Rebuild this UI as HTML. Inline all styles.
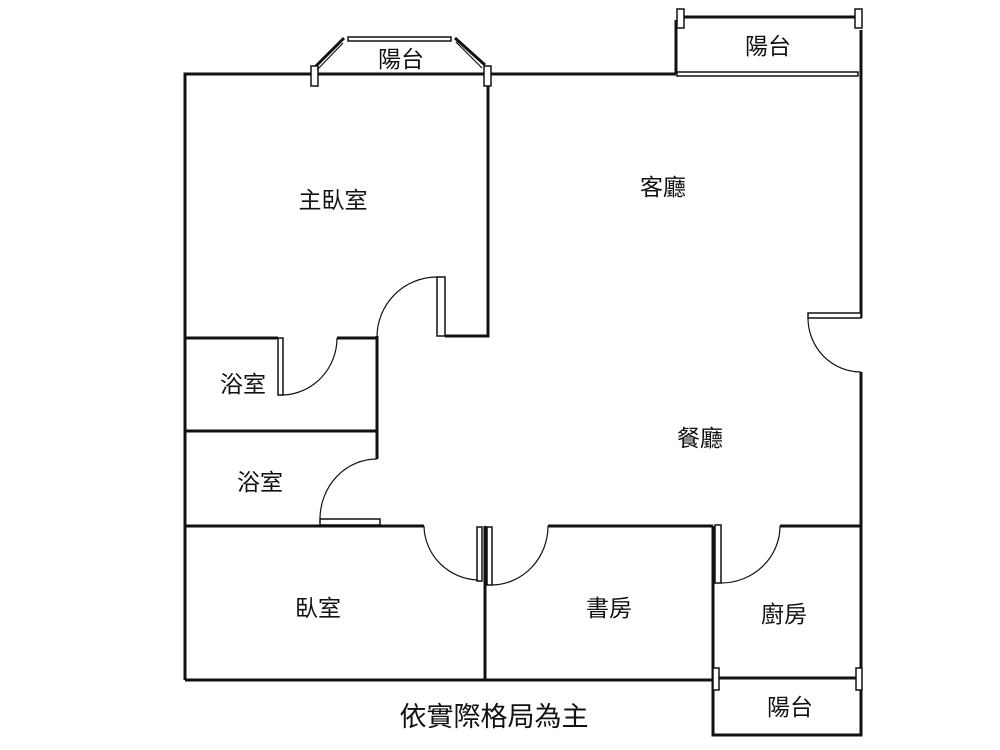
<!DOCTYPE html>
<html><head><meta charset="utf-8"><style>
html,body{margin:0;padding:0;background:#fff;width:1000px;height:750px;overflow:hidden}
text{font-family:"Liberation Sans","Noto Sans CJK TC",sans-serif;fill:#111}
</style></head><body>
<svg width="1000" height="750" viewBox="0 0 1000 750" xmlns="http://www.w3.org/2000/svg">
<g fill="none" stroke="#111" stroke-width="3">
<path d="M185,680 L185,74 L676,74"/>
<path d="M488,74 L488,336 L445,336"/>
<path d="M861,30 L861,318"/>
<path d="M861,372 L861,735 L713,735 L713,526"/>
<path d="M185,680 L715,680"/>
<path d="M719,678 L857,678"/>
<path d="M377,336 L377,459"/>
<path d="M185,338 L278,338"/>
<path d="M337,338 L377,338"/>
<path d="M185,431 L377,431"/>
<path d="M185,526 L424,526"/>
<path d="M485,526 L485,680"/>
<path d="M548,526 L713,526"/>
<path d="M780,526 L861,526"/>
<path d="M684,17 L855,17"/>
<path d="M676,20 L676,74"/>
</g>
<g fill="#fff" stroke="#111" stroke-width="1.5">
<rect x="677" y="72" width="181" height="4"/>
<rect x="677" y="9" width="7" height="19"/>
<rect x="855" y="9" width="7" height="19"/>
<rect x="311" y="66" width="7" height="20"/>
<rect x="484" y="66" width="7" height="20"/>
<rect x="348" y="37" width="103" height="4"/>
<rect x="713" y="668" width="6" height="22"/>
<rect x="856" y="668" width="6" height="22"/>
<rect x="437" y="277" width="8" height="59"/>
<rect x="278" y="338" width="5" height="57"/>
<rect x="320" y="519" width="60" height="6"/>
<rect x="477" y="527" width="5" height="54"/>
<rect x="487" y="527" width="5" height="58"/>
<rect x="715" y="525" width="6" height="58"/>
<rect x="808" y="313" width="53" height="5"/>
</g>
<g fill="none" stroke="#111" stroke-width="3">
<path d="M316,66 L344,38 M455,38 L485,65"/>
</g>
<g fill="none" stroke="#111" stroke-width="1.2">
<path d="M317,70 L343,43 M456,42 L482,68"/>
<path d="M437,277 A60,60 0 0 0 377,337"/>
<path d="M283,395 A56,57 0 0 0 337,338"/>
<path d="M377,459 A57,60 0 0 0 320,519"/>
<path d="M424,526 A56,55 0 0 0 478,580"/>
<path d="M492,585 A57,59 0 0 0 548,526"/>
<path d="M721,583 A59,57 0 0 0 780,526"/>
<path d="M808,318 A53,54 0 0 0 861,372"/>
</g>
<g font-size="23" text-anchor="middle">
<text x="401" y="67">陽台</text>
<text x="768" y="54">陽台</text>
<text x="333" y="208">主臥室</text>
<text x="663" y="195">客廳</text>
<text x="243" y="392">浴室</text>
<text x="260" y="490">浴室</text>
<text x="700" y="446">餐廳</text>
<text x="318" y="616">臥室</text>
<text x="609" y="616">書房</text>
<text x="784" y="622">廚房</text>
<text x="790" y="715">陽台</text>
<text x="494" y="726" font-size="27">依實際格局為主</text>
</g>
</svg>
</body></html>
